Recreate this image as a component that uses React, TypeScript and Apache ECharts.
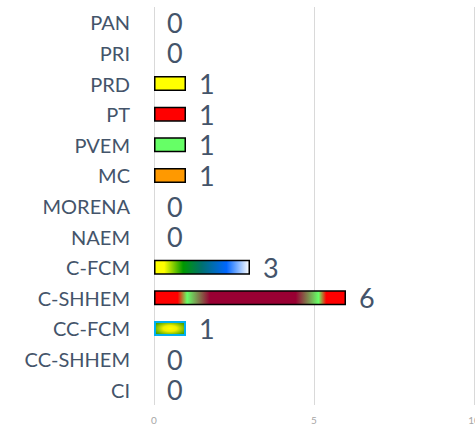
import React, { useEffect, useRef } from "react";
import * as echarts from "echarts";

const categories = ["PAN", "PRI", "PRD", "PT", "PVEM", "MC", "MORENA", "NAEM", "C-FCM", "C-SHHEM", "CC-FCM", "CC-SHHEM", "CI"];
const values = [0, 0, 1, 1, 1, 1, 0, 0, 3, 6, 1, 0, 0];
const xTicks = { min: 0, max: 10, interval: 5 };

const lin = (stops: [number, string][]) => ({
  type: "linear", x: 0, y: 0, x2: 1, y2: 0,
  colorStops: stops.map(([offset, color]) => ({ offset, color })),
});

const barStyles: Record<string, any> = {
  PRD: { color: "#FFFF00", borderColor: "#000", borderWidth: 1.5 },
  PT: { color: "#FF0000", borderColor: "#000", borderWidth: 1.5 },
  PVEM: { color: "#66FF66", borderColor: "#000", borderWidth: 1.5 },
  MC: { color: "#FF9900", borderColor: "#000", borderWidth: 1.5 },
  "C-FCM": {
    color: lin([[0, "#FFFF00"], [0.1, "#FFFF00"], [0.3, "#009900"], [0.5, "#007070"], [0.76, "#0066FF"], [1, "#FFFFFF"]]),
    borderColor: "#000", borderWidth: 1.5,
  },
  "C-SHHEM": {
    color: lin([[0, "#FF0000"], [0.12, "#FF0000"], [0.17, "#66FF66"], [0.29, "#990033"], [0.74, "#990033"], [0.86, "#66FF66"], [0.9, "#FF0000"], [1, "#FF0000"]]),
    borderColor: "#000", borderWidth: 1.5,
  },
  "CC-FCM": {
    color: { type: "radial", x: 0.5, y: 0.5, r: 0.9, colorStops: [{ offset: 0, color: "#FFFF00" }, { offset: 0.25, color: "#EEF000" }, { offset: 0.6, color: "#55AA00" }, { offset: 1, color: "#008000" }] },
    borderColor: "#00B0F0", borderWidth: 2,
  },
};

export default function App() {
  const ref = useRef<HTMLDivElement>(null);
  useEffect(() => {
    if (!ref.current) return;
    const chart = echarts.init(ref.current, undefined, { renderer: "svg" });
    chart.setOption({
      animation: false,
      grid: { left: 154, right: 1, top: 7, bottom: 22, containLabel: false, outerBoundsMode: "none" },
      xAxis: {
        type: "value",
        min: xTicks.min, max: xTicks.max, interval: xTicks.interval,
        axisLine: { show: false },
        axisTick: { show: false },
        splitLine: { lineStyle: { color: "#D9D9D9", width: 1 } },
        axisLabel: { color: "#A6A6A6", fontSize: 10, fontFamily: "Lato", margin: 10 },
      },
      yAxis: {
        type: "category",
        data: categories,
        inverse: true,
        axisLine: { show: false },
        axisTick: { show: false },
        axisLabel: { color: "#44546A", fontSize: 20, fontFamily: "Lato", margin: 24 },
      },
      series: [
        {
          type: "bar",
          barWidth: 15,
          data: categories.map((c, i) => ({
            value: values[i],
            itemStyle: barStyles[c] || { color: "transparent", borderWidth: 0 },
          })),
          label: {
            show: true,
            position: "right",
            distance: 13,
            fontSize: 27,
            lineHeight: 28,
            fontFamily: "Lato",
            color: "#44546A",
          },
        },
      ],
    });
    return () => chart.dispose();
  }, []);
  return <div ref={ref} style={{ position: "absolute", left: 0, top: 0, width: 475, height: 427 }} />;
}
